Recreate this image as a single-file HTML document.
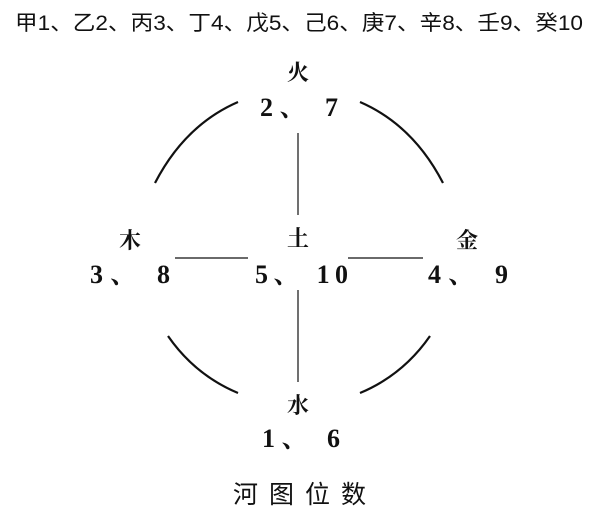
<!DOCTYPE html>
<html><head><meta charset="utf-8"><style>
body{margin:0;background:#fff;width:600px;height:521px;overflow:hidden}
svg{display:block}
.s{font-family:"Liberation Serif","Noto Serif CJK SC",serif;font-weight:bold;fill:#111}
.h{font-family:"Liberation Sans","Noto Sans CJK SC",sans-serif;fill:#111}
</style></head><body>
<svg width="600" height="521" viewBox="0 0 600 521">
<text class="h" x="15" y="30" font-size="21" textLength="568" lengthAdjust="spacingAndGlyphs">甲1、乙2、丙3、丁4、戊5、己6、庚7、辛8、壬9、癸10</text>
<g fill="none" stroke="#111" stroke-width="2.2">
<path d="M155 183 Q185 125 238 102"/>
<path d="M360 102 Q413 125 443 183"/>
<path d="M168 336 Q195 375 238 393"/>
<path d="M360 393 Q403 375 430 336"/>
</g>
<g stroke="#111" stroke-width="1.2">
<line x1="298" y1="133" x2="298" y2="215"/>
<line x1="298" y1="290" x2="298" y2="382"/>
<line x1="175" y1="258" x2="248" y2="258"/>
<line x1="348" y1="258" x2="423" y2="258"/>
</g>
<g class="s" text-anchor="middle">
<text x="298" y="80" font-size="22">火</text>
<text x="260" y="116" font-size="26" text-anchor="start" textLength="78">2、 7</text>
<text x="130" y="248" font-size="22">木</text>
<text x="90" y="283" font-size="26" text-anchor="start" textLength="80">3、 8</text>
<text x="298" y="246" font-size="22">土</text>
<text x="255" y="283" font-size="26" text-anchor="start" textLength="93">5、 10</text>
<text x="467" y="248" font-size="22">金</text>
<text x="428" y="283" font-size="26" text-anchor="start" textLength="80">4、 9</text>
<text x="298" y="413" font-size="22">水</text>
<text x="262" y="447" font-size="26" text-anchor="start" textLength="78">1、 6</text>
</g>
<text class="h" x="233" y="503" font-size="25" textLength="133">河图位数</text>
</svg>
</body></html>
